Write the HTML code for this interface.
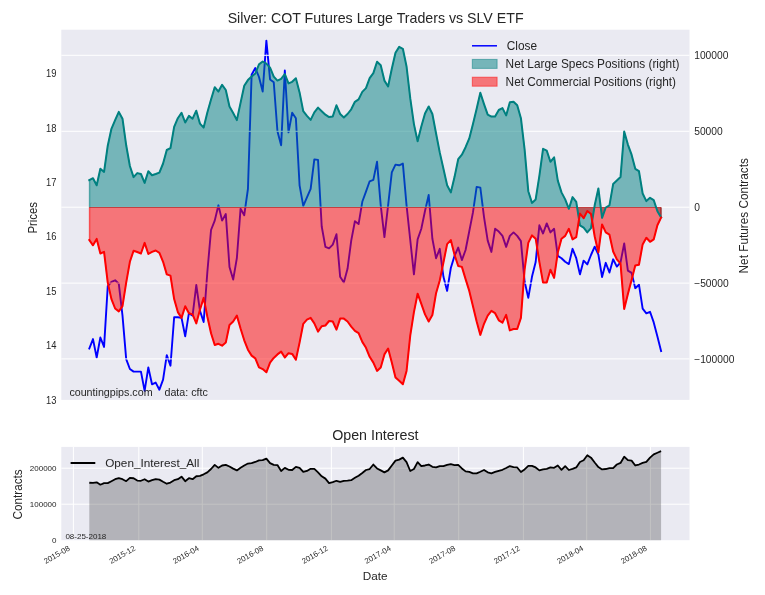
<!DOCTYPE html>
<html><head><meta charset="utf-8"><title>Silver COT</title>
<style>
html,body{margin:0;padding:0;background:#fff;}
svg{display:block;font-family:"Liberation Sans",Arial,sans-serif;fill:#262626;}
</style></head><body>
<svg width="765" height="595" viewBox="0 0 765 595">
<rect width="765" height="595" fill="#fff"/>
<rect x="61.3" y="29.7" width="628.2" height="370.2" fill="#EAEAF2"/>

<polyline points="89.30,348.50 92.99,339.10 96.68,357.50 100.37,337.50 104.06,346.90 107.75,286.20 111.43,281.90 115.12,280.30 118.81,283.80 122.50,315.60 126.19,359.10 129.88,369.00 133.57,371.60 137.26,371.60 140.95,371.60 144.63,390.90 148.32,367.40 152.01,384.30 155.70,382.60 159.39,389.70 163.08,379.60 166.77,355.10 170.46,365.70 174.15,317.20 177.84,317.20 181.52,317.90 185.21,336.30 188.90,313.20 192.59,315.60 196.28,285.00 199.97,310.90 203.66,322.00 207.35,272.00 211.04,230.00 214.73,220.60 218.42,205.30 222.10,220.60 225.79,214.00 229.48,267.00 233.17,279.60 236.86,258.20 240.55,208.80 244.24,215.20 247.93,189.00 251.62,74.70 255.31,68.00 258.99,77.00 262.68,91.60 266.37,40.60 270.06,79.40 273.75,82.20 277.44,131.20 281.13,145.30 284.82,70.50 288.51,132.40 292.19,112.80 295.88,118.20 299.57,185.30 303.26,205.80 306.95,197.30 310.64,188.80 314.33,159.40 318.02,159.90 321.71,226.50 325.40,246.90 329.08,248.40 332.77,244.60 336.46,234.20 340.15,276.80 343.84,282.60 347.53,268.80 351.22,240.60 354.91,221.30 358.60,224.10 362.29,201.80 365.98,191.60 369.66,181.30 373.35,179.90 377.04,161.80 380.73,205.30 384.42,237.10 388.11,205.30 391.80,172.40 395.49,164.60 399.18,165.30 402.87,163.60 406.55,205.30 410.24,240.00 413.93,274.40 417.62,239.40 421.31,228.80 425.00,211.00 428.69,195.00 432.38,238.80 436.07,258.20 439.75,248.80 443.44,276.80 447.13,290.90 450.82,268.00 454.51,255.90 458.20,247.60 461.89,260.10 465.58,250.00 469.27,231.20 472.96,212.40 476.65,186.90 480.33,187.60 484.02,217.10 487.71,240.60 491.40,251.90 495.09,228.80 498.78,231.60 502.47,235.90 506.16,246.90 509.85,235.90 513.53,232.40 517.22,235.90 520.91,241.10 524.60,281.50 528.29,297.90 531.98,276.80 535.67,262.00 539.36,225.30 543.05,233.50 546.74,223.40 550.42,232.40 554.11,228.80 557.80,255.90 561.49,258.20 565.18,261.80 568.87,264.10 572.56,248.80 576.25,258.20 579.94,274.40 583.63,260.60 587.31,264.40 591.00,255.00 594.69,246.70 598.38,254.60 602.07,277.00 605.76,262.80 609.45,272.50 613.14,259.30 616.83,266.60 620.52,262.40 624.20,243.50 627.89,270.60 631.58,272.90 635.27,288.20 638.96,284.70 642.65,308.70 646.34,313.40 650.03,311.80 653.72,322.40 657.41,336.50 661.09,351.10" fill="none" stroke="#0000ff" stroke-width="1.9" stroke-linejoin="round" stroke-linecap="square"/>
<line x1="61.3" x2="689.5" y1="55.3" y2="55.3" stroke="#fff" stroke-width="1"/>
<line x1="61.3" x2="689.5" y1="131.3" y2="131.3" stroke="#fff" stroke-width="1"/>
<line x1="61.3" x2="689.5" y1="207.2" y2="207.2" stroke="#fff" stroke-width="1"/>
<line x1="61.3" x2="689.5" y1="283.1" y2="283.1" stroke="#fff" stroke-width="1"/>
<line x1="61.3" x2="689.5" y1="358.9" y2="358.9" stroke="#fff" stroke-width="1"/>
<path d="M89.30,207.5 L89.30,180.10 L92.99,178.20 L96.68,185.30 L100.37,168.80 L104.06,171.90 L107.75,145.70 L111.43,128.80 L115.12,120.10 L118.81,111.90 L122.50,118.70 L126.19,145.30 L129.88,166.00 L133.57,177.10 L137.26,173.10 L140.95,174.00 L144.63,182.90 L148.32,171.20 L152.01,175.20 L155.70,174.00 L159.39,172.60 L163.08,163.50 L166.77,150.00 L170.46,148.20 L174.15,126.90 L177.84,118.20 L181.52,112.80 L185.21,122.50 L188.90,115.90 L192.59,118.70 L196.28,110.70 L199.97,123.60 L203.66,127.60 L207.35,112.40 L211.04,99.40 L214.73,87.20 L218.42,91.60 L222.10,84.80 L225.79,90.00 L229.48,106.50 L233.17,113.00 L236.86,120.10 L240.55,102.90 L244.24,85.80 L247.93,80.10 L251.62,76.60 L255.31,73.50 L258.99,64.40 L262.68,61.50 L266.37,63.60 L270.06,67.60 L273.75,76.60 L277.44,80.60 L281.13,78.90 L284.82,74.00 L288.51,83.40 L292.19,81.80 L295.88,78.20 L299.57,92.40 L303.26,111.20 L306.95,115.90 L310.64,119.90 L314.33,112.40 L318.02,107.60 L321.71,111.20 L325.40,114.70 L329.08,117.10 L332.77,116.40 L336.46,105.30 L340.15,114.00 L343.84,117.50 L347.53,114.00 L351.22,109.30 L354.91,101.80 L358.60,99.40 L362.29,91.90 L365.98,88.10 L369.66,78.20 L373.35,73.10 L377.04,61.80 L380.73,65.30 L384.42,80.60 L388.11,86.50 L391.80,68.80 L395.49,52.80 L399.18,46.90 L402.87,48.80 L406.55,66.50 L410.24,98.20 L413.93,124.10 L417.62,141.30 L421.31,126.50 L425.00,113.50 L428.69,106.50 L432.38,114.00 L436.07,133.50 L439.75,152.40 L443.44,168.80 L447.13,185.30 L450.82,192.40 L454.51,177.10 L458.20,159.20 L461.89,154.70 L465.58,147.20 L469.27,138.40 L472.96,124.10 L476.65,108.80 L480.33,92.80 L484.02,104.10 L487.71,114.70 L491.40,116.60 L495.09,116.60 L498.78,110.00 L502.47,108.10 L506.16,115.40 L509.85,102.20 L513.53,101.80 L517.22,105.30 L520.91,118.20 L524.60,149.40 L528.29,191.20 L531.98,202.90 L535.67,199.40 L539.36,175.90 L543.05,148.80 L546.74,150.60 L550.42,161.80 L554.11,157.30 L557.80,180.60 L561.49,192.40 L565.18,199.40 L568.87,208.80 L572.56,197.10 L576.25,201.80 L579.94,225.30 L583.63,227.60 L587.31,232.40 L591.00,228.20 L594.69,205.30 L598.38,188.40 L602.07,217.80 L605.76,207.50 L609.45,205.30 L613.14,184.10 L616.83,180.60 L620.52,177.10 L624.20,131.60 L627.89,144.60 L631.58,154.70 L635.27,168.80 L638.96,171.20 L642.65,193.50 L646.34,201.10 L650.03,197.80 L653.72,200.10 L657.41,211.20 L661.09,217.50 L661.09,207.5 Z" fill="#008080" fill-opacity="0.5" stroke="#008080" stroke-opacity="0.5" stroke-width="1" stroke-linejoin="miter"/>
<path d="M89.30,207.5 L89.30,240.10 L92.99,245.30 L96.68,238.90 L100.37,253.50 L104.06,251.90 L107.75,282.60 L111.43,299.10 L115.12,308.50 L118.81,311.40 L122.50,306.20 L126.19,282.60 L129.88,261.80 L133.57,250.70 L137.26,252.00 L140.95,253.50 L144.63,242.90 L148.32,254.00 L152.01,251.90 L155.70,250.50 L159.39,252.80 L163.08,261.80 L166.77,274.40 L170.46,275.60 L174.15,299.10 L177.84,312.10 L181.52,317.90 L185.21,306.20 L188.90,313.20 L192.59,314.40 L196.28,323.40 L199.97,309.70 L203.66,297.90 L207.35,316.80 L211.04,333.20 L214.73,345.00 L218.42,343.80 L222.10,345.70 L225.79,342.60 L229.48,325.00 L233.17,321.50 L236.86,315.60 L240.55,328.50 L244.24,340.30 L247.93,349.70 L251.62,355.60 L255.31,358.40 L258.99,367.40 L262.68,369.10 L266.37,372.30 L270.06,362.60 L273.75,357.90 L277.44,354.40 L281.13,351.60 L284.82,357.50 L288.51,353.20 L292.19,353.90 L295.88,359.80 L299.57,342.60 L303.26,323.80 L306.95,319.60 L310.64,317.90 L314.33,323.40 L318.02,331.60 L321.71,326.20 L325.40,325.50 L329.08,321.00 L332.77,321.50 L336.46,329.70 L340.15,318.60 L343.84,318.60 L347.53,321.50 L351.22,326.60 L354.91,330.90 L358.60,333.20 L362.29,341.90 L365.98,347.80 L369.66,356.80 L373.35,362.60 L377.04,370.90 L380.73,367.40 L384.42,354.40 L388.11,348.50 L391.80,362.60 L395.49,377.50 L399.18,380.80 L402.87,384.30 L406.55,370.90 L410.24,335.60 L413.93,312.10 L417.62,293.70 L421.31,303.80 L425.00,314.40 L428.69,321.50 L432.38,315.00 L436.07,293.20 L439.75,280.50 L443.44,262.50 L447.13,244.10 L450.82,240.10 L454.51,254.70 L458.20,266.00 L461.89,266.90 L465.58,279.10 L469.27,290.90 L472.96,306.20 L476.65,321.50 L480.33,334.90 L484.02,323.80 L487.71,315.60 L491.40,310.90 L495.09,313.20 L498.78,320.30 L502.47,322.60 L506.16,314.90 L509.85,330.40 L513.53,329.00 L517.22,329.00 L520.91,317.90 L524.60,269.70 L528.29,242.90 L531.98,235.40 L535.67,238.70 L539.36,261.80 L543.05,282.60 L546.74,282.60 L550.42,269.70 L554.11,277.90 L557.80,252.40 L561.49,238.70 L565.18,235.90 L568.87,228.80 L572.56,239.40 L576.25,237.10 L579.94,213.50 L583.63,218.20 L587.31,211.00 L591.00,214.00 L594.69,236.50 L598.38,252.40 L602.07,224.40 L605.76,232.40 L609.45,234.70 L613.14,251.50 L616.83,259.30 L620.52,263.50 L624.20,308.90 L627.89,294.10 L631.58,280.00 L635.27,265.40 L638.96,264.70 L642.65,244.40 L646.34,237.80 L650.03,241.80 L653.72,239.40 L657.41,225.30 L661.09,217.50 L661.09,207.5 Z" fill="#ff0000" fill-opacity="0.5" stroke="#ff0000" stroke-opacity="0.5" stroke-width="1" stroke-linejoin="miter"/>
<rect x="89.3" y="180.1" width="1.5" height="27.4" fill="#008080" fill-opacity="0.2"/>
<rect x="89.3" y="207.5" width="1.5" height="32.6" fill="#ff0000" fill-opacity="0.2"/>
<rect x="660.2" y="207.5" width="1.6" height="9.0" fill="#800000" fill-opacity="0.3"/>
<polyline points="89.30,180.10 92.99,178.20 96.68,185.30 100.37,168.80 104.06,171.90 107.75,145.70 111.43,128.80 115.12,120.10 118.81,111.90 122.50,118.70 126.19,145.30 129.88,166.00 133.57,177.10 137.26,173.10 140.95,174.00 144.63,182.90 148.32,171.20 152.01,175.20 155.70,174.00 159.39,172.60 163.08,163.50 166.77,150.00 170.46,148.20 174.15,126.90 177.84,118.20 181.52,112.80 185.21,122.50 188.90,115.90 192.59,118.70 196.28,110.70 199.97,123.60 203.66,127.60 207.35,112.40 211.04,99.40 214.73,87.20 218.42,91.60 222.10,84.80 225.79,90.00 229.48,106.50 233.17,113.00 236.86,120.10 240.55,102.90 244.24,85.80 247.93,80.10 251.62,76.60 255.31,73.50 258.99,64.40 262.68,61.50 266.37,63.60 270.06,67.60 273.75,76.60 277.44,80.60 281.13,78.90 284.82,74.00 288.51,83.40 292.19,81.80 295.88,78.20 299.57,92.40 303.26,111.20 306.95,115.90 310.64,119.90 314.33,112.40 318.02,107.60 321.71,111.20 325.40,114.70 329.08,117.10 332.77,116.40 336.46,105.30 340.15,114.00 343.84,117.50 347.53,114.00 351.22,109.30 354.91,101.80 358.60,99.40 362.29,91.90 365.98,88.10 369.66,78.20 373.35,73.10 377.04,61.80 380.73,65.30 384.42,80.60 388.11,86.50 391.80,68.80 395.49,52.80 399.18,46.90 402.87,48.80 406.55,66.50 410.24,98.20 413.93,124.10 417.62,141.30 421.31,126.50 425.00,113.50 428.69,106.50 432.38,114.00 436.07,133.50 439.75,152.40 443.44,168.80 447.13,185.30 450.82,192.40 454.51,177.10 458.20,159.20 461.89,154.70 465.58,147.20 469.27,138.40 472.96,124.10 476.65,108.80 480.33,92.80 484.02,104.10 487.71,114.70 491.40,116.60 495.09,116.60 498.78,110.00 502.47,108.10 506.16,115.40 509.85,102.20 513.53,101.80 517.22,105.30 520.91,118.20 524.60,149.40 528.29,191.20 531.98,202.90 535.67,199.40 539.36,175.90 543.05,148.80 546.74,150.60 550.42,161.80 554.11,157.30 557.80,180.60 561.49,192.40 565.18,199.40 568.87,208.80 572.56,197.10 576.25,201.80 579.94,225.30 583.63,227.60 587.31,232.40 591.00,228.20 594.69,205.30 598.38,188.40 602.07,217.80 605.76,207.50 609.45,205.30 613.14,184.10 616.83,180.60 620.52,177.10 624.20,131.60 627.89,144.60 631.58,154.70 635.27,168.80 638.96,171.20 642.65,193.50 646.34,201.10 650.03,197.80 653.72,200.10 657.41,211.20 661.09,217.50" fill="none" stroke="#008080" stroke-width="2" stroke-linejoin="round" stroke-linecap="square"/>
<polyline points="89.30,240.10 92.99,245.30 96.68,238.90 100.37,253.50 104.06,251.90 107.75,282.60 111.43,299.10 115.12,308.50 118.81,311.40 122.50,306.20 126.19,282.60 129.88,261.80 133.57,250.70 137.26,252.00 140.95,253.50 144.63,242.90 148.32,254.00 152.01,251.90 155.70,250.50 159.39,252.80 163.08,261.80 166.77,274.40 170.46,275.60 174.15,299.10 177.84,312.10 181.52,317.90 185.21,306.20 188.90,313.20 192.59,314.40 196.28,323.40 199.97,309.70 203.66,297.90 207.35,316.80 211.04,333.20 214.73,345.00 218.42,343.80 222.10,345.70 225.79,342.60 229.48,325.00 233.17,321.50 236.86,315.60 240.55,328.50 244.24,340.30 247.93,349.70 251.62,355.60 255.31,358.40 258.99,367.40 262.68,369.10 266.37,372.30 270.06,362.60 273.75,357.90 277.44,354.40 281.13,351.60 284.82,357.50 288.51,353.20 292.19,353.90 295.88,359.80 299.57,342.60 303.26,323.80 306.95,319.60 310.64,317.90 314.33,323.40 318.02,331.60 321.71,326.20 325.40,325.50 329.08,321.00 332.77,321.50 336.46,329.70 340.15,318.60 343.84,318.60 347.53,321.50 351.22,326.60 354.91,330.90 358.60,333.20 362.29,341.90 365.98,347.80 369.66,356.80 373.35,362.60 377.04,370.90 380.73,367.40 384.42,354.40 388.11,348.50 391.80,362.60 395.49,377.50 399.18,380.80 402.87,384.30 406.55,370.90 410.24,335.60 413.93,312.10 417.62,293.70 421.31,303.80 425.00,314.40 428.69,321.50 432.38,315.00 436.07,293.20 439.75,280.50 443.44,262.50 447.13,244.10 450.82,240.10 454.51,254.70 458.20,266.00 461.89,266.90 465.58,279.10 469.27,290.90 472.96,306.20 476.65,321.50 480.33,334.90 484.02,323.80 487.71,315.60 491.40,310.90 495.09,313.20 498.78,320.30 502.47,322.60 506.16,314.90 509.85,330.40 513.53,329.00 517.22,329.00 520.91,317.90 524.60,269.70 528.29,242.90 531.98,235.40 535.67,238.70 539.36,261.80 543.05,282.60 546.74,282.60 550.42,269.70 554.11,277.90 557.80,252.40 561.49,238.70 565.18,235.90 568.87,228.80 572.56,239.40 576.25,237.10 579.94,213.50 583.63,218.20 587.31,211.00 591.00,214.00 594.69,236.50 598.38,252.40 602.07,224.40 605.76,232.40 609.45,234.70 613.14,251.50 616.83,259.30 620.52,263.50 624.20,308.90 627.89,294.10 631.58,280.00 635.27,265.40 638.96,264.70 642.65,244.40 646.34,237.80 650.03,241.80 653.72,239.40 657.41,225.30 661.09,217.50" fill="none" stroke="#ff0000" stroke-width="2" stroke-linejoin="round" stroke-linecap="square"/>
<text x="375.6" y="22.8" font-size="14.2" text-anchor="middle">Silver: COT Futures Large Traders vs SLV ETF</text>
<text transform="translate(56.4,403.5) scale(0.93,1)" font-size="10.1" text-anchor="end">13</text>
<text transform="translate(56.4,349.1) scale(0.93,1)" font-size="10.1" text-anchor="end">14</text>
<text transform="translate(56.4,294.7) scale(0.93,1)" font-size="10.1" text-anchor="end">15</text>
<text transform="translate(56.4,240.3) scale(0.93,1)" font-size="10.1" text-anchor="end">16</text>
<text transform="translate(56.4,185.9) scale(0.93,1)" font-size="10.1" text-anchor="end">17</text>
<text transform="translate(56.4,131.5) scale(0.93,1)" font-size="10.1" text-anchor="end">18</text>
<text transform="translate(56.4,77.1) scale(0.93,1)" font-size="10.1" text-anchor="end">19</text>
<text x="694.2" y="59.3" font-size="10.25">100000</text>
<text x="694.2" y="135.3" font-size="10.25">50000</text>
<text x="694.2" y="211.2" font-size="10.25">0</text>
<text x="694.2" y="287.1" font-size="10.25">−50000</text>
<text x="694.2" y="362.9" font-size="10.25">−100000</text>
<text transform="translate(37.2,217.8) rotate(-90)" font-size="12.4" textLength="31.6" lengthAdjust="spacingAndGlyphs" text-anchor="middle">Prices</text>
<text transform="translate(748,215.8) rotate(-90)" font-size="12.4" textLength="115.3" lengthAdjust="spacingAndGlyphs" text-anchor="middle">Net Futures Contracts</text>
<text x="69.4" y="395.9" font-size="10.7">countingpips.com&#160;&#160;&#160;&#160;data: cftc</text>
<line x1="472" x2="497" y1="45.8" y2="45.8" stroke="#0000ff" stroke-width="1.5"/>
<rect x="472.3" y="59.4" width="24.8" height="9" fill="#008080" fill-opacity="0.5" stroke="#008080" stroke-opacity="0.5" stroke-width="1"/>
<rect x="472.3" y="77.2" width="24.8" height="9" fill="#ff0000" fill-opacity="0.5" stroke="#ff0000" stroke-opacity="0.5" stroke-width="1"/>
<text x="506.8" y="50.1" font-size="11.85">Close</text>
<text x="505.6" y="67.5" font-size="11.85">Net Large Specs Positions (right)</text>
<text x="505.6" y="85.7" font-size="11.85">Net Commercial Positions (right)</text>
<rect x="61.3" y="446.9" width="628.2" height="93.30000000000007" fill="#EAEAF2"/>
<line x1="73.4" x2="73.4" y1="446.9" y2="540.2" stroke="#fff" stroke-width="1"/>
<line x1="138.8" x2="138.8" y1="446.9" y2="540.2" stroke="#fff" stroke-width="1"/>
<line x1="202.3" x2="202.3" y1="446.9" y2="540.2" stroke="#fff" stroke-width="1"/>
<line x1="266.7" x2="266.7" y1="446.9" y2="540.2" stroke="#fff" stroke-width="1"/>
<line x1="331.4" x2="331.4" y1="446.9" y2="540.2" stroke="#fff" stroke-width="1"/>
<line x1="394.2" x2="394.2" y1="446.9" y2="540.2" stroke="#fff" stroke-width="1"/>
<line x1="458.7" x2="458.7" y1="446.9" y2="540.2" stroke="#fff" stroke-width="1"/>
<line x1="523.4" x2="523.4" y1="446.9" y2="540.2" stroke="#fff" stroke-width="1"/>
<line x1="586.7" x2="586.7" y1="446.9" y2="540.2" stroke="#fff" stroke-width="1"/>
<line x1="650.4" x2="650.4" y1="446.9" y2="540.2" stroke="#fff" stroke-width="1"/>
<line x1="61.3" x2="689.5" y1="468.2" y2="468.2" stroke="#fff" stroke-width="1"/>
<line x1="61.3" x2="689.5" y1="504.2" y2="504.2" stroke="#fff" stroke-width="1"/>
<path d="M89.30,540.2 L89.30,482.75 L92.99,482.94 L96.68,482.35 L100.37,484.71 L104.06,483.14 L107.75,483.14 L111.43,481.18 L115.12,479.22 L118.81,478.24 L122.50,479.22 L126.19,481.18 L129.88,477.84 L133.57,478.24 L137.26,480.59 L140.95,480.78 L144.63,479.22 L148.32,481.57 L152.01,480.20 L155.70,479.22 L159.39,479.61 L163.08,481.76 L166.77,483.73 L170.46,482.55 L174.15,480.20 L177.84,479.22 L181.52,476.67 L185.21,481.18 L188.90,478.24 L192.59,479.22 L196.28,476.27 L199.97,475.88 L203.66,474.31 L207.35,472.35 L211.04,469.02 L214.73,464.90 L218.42,467.84 L222.10,465.49 L225.79,464.90 L229.48,466.47 L233.17,468.63 L236.86,470.39 L240.55,467.84 L244.24,465.49 L247.93,463.53 L251.62,463.14 L255.31,461.96 L258.99,460.39 L262.68,460.20 L266.37,458.63 L270.06,463.14 L273.75,464.90 L277.44,465.10 L281.13,470.98 L284.82,467.84 L288.51,469.80 L292.19,470.00 L295.88,466.86 L299.57,467.84 L303.26,471.96 L306.95,470.98 L310.64,468.82 L314.33,468.82 L318.02,472.35 L321.71,476.27 L325.40,478.63 L329.08,483.14 L332.77,482.16 L336.46,480.78 L340.15,481.76 L343.84,480.78 L347.53,480.59 L351.22,480.20 L354.91,477.84 L358.60,475.69 L362.29,472.94 L365.98,470.00 L369.66,469.02 L373.35,464.51 L377.04,468.43 L380.73,470.39 L384.42,472.35 L388.11,470.39 L391.80,465.49 L395.49,460.59 L399.18,459.61 L402.87,457.65 L406.55,462.16 L410.24,470.98 L413.93,469.02 L417.62,462.16 L421.31,466.08 L425.00,465.49 L428.69,464.51 L432.38,466.86 L436.07,467.45 L439.75,466.08 L443.44,466.08 L447.13,464.90 L450.82,464.12 L454.51,465.10 L458.20,464.90 L461.89,468.43 L465.58,471.37 L469.27,471.96 L472.96,473.33 L476.65,473.33 L480.33,471.76 L484.02,470.00 L487.71,472.35 L491.40,473.33 L495.09,471.96 L498.78,470.78 L502.47,469.80 L506.16,468.04 L509.85,466.08 L513.53,467.06 L517.22,467.45 L520.91,471.96 L524.60,469.41 L528.29,465.88 L531.98,465.88 L535.67,467.45 L539.36,470.39 L543.05,469.41 L546.74,468.82 L550.42,467.45 L554.11,467.84 L557.80,465.49 L561.49,469.80 L565.18,466.08 L568.87,470.00 L572.56,468.82 L576.25,467.45 L579.94,461.96 L583.63,460.20 L587.31,455.29 L591.00,457.65 L594.69,462.55 L598.38,467.06 L602.07,469.41 L605.76,469.02 L609.45,468.04 L613.14,468.04 L616.83,464.51 L620.52,462.94 L624.20,456.67 L627.89,460.20 L631.58,460.59 L635.27,465.49 L638.96,464.51 L642.65,462.94 L646.34,461.96 L650.03,457.65 L653.72,454.31 L657.41,452.75 L661.09,451.18 L661.09,540.2 Z" fill="#000" fill-opacity="0.235"/>
<polyline points="89.30,482.75 92.99,482.94 96.68,482.35 100.37,484.71 104.06,483.14 107.75,483.14 111.43,481.18 115.12,479.22 118.81,478.24 122.50,479.22 126.19,481.18 129.88,477.84 133.57,478.24 137.26,480.59 140.95,480.78 144.63,479.22 148.32,481.57 152.01,480.20 155.70,479.22 159.39,479.61 163.08,481.76 166.77,483.73 170.46,482.55 174.15,480.20 177.84,479.22 181.52,476.67 185.21,481.18 188.90,478.24 192.59,479.22 196.28,476.27 199.97,475.88 203.66,474.31 207.35,472.35 211.04,469.02 214.73,464.90 218.42,467.84 222.10,465.49 225.79,464.90 229.48,466.47 233.17,468.63 236.86,470.39 240.55,467.84 244.24,465.49 247.93,463.53 251.62,463.14 255.31,461.96 258.99,460.39 262.68,460.20 266.37,458.63 270.06,463.14 273.75,464.90 277.44,465.10 281.13,470.98 284.82,467.84 288.51,469.80 292.19,470.00 295.88,466.86 299.57,467.84 303.26,471.96 306.95,470.98 310.64,468.82 314.33,468.82 318.02,472.35 321.71,476.27 325.40,478.63 329.08,483.14 332.77,482.16 336.46,480.78 340.15,481.76 343.84,480.78 347.53,480.59 351.22,480.20 354.91,477.84 358.60,475.69 362.29,472.94 365.98,470.00 369.66,469.02 373.35,464.51 377.04,468.43 380.73,470.39 384.42,472.35 388.11,470.39 391.80,465.49 395.49,460.59 399.18,459.61 402.87,457.65 406.55,462.16 410.24,470.98 413.93,469.02 417.62,462.16 421.31,466.08 425.00,465.49 428.69,464.51 432.38,466.86 436.07,467.45 439.75,466.08 443.44,466.08 447.13,464.90 450.82,464.12 454.51,465.10 458.20,464.90 461.89,468.43 465.58,471.37 469.27,471.96 472.96,473.33 476.65,473.33 480.33,471.76 484.02,470.00 487.71,472.35 491.40,473.33 495.09,471.96 498.78,470.78 502.47,469.80 506.16,468.04 509.85,466.08 513.53,467.06 517.22,467.45 520.91,471.96 524.60,469.41 528.29,465.88 531.98,465.88 535.67,467.45 539.36,470.39 543.05,469.41 546.74,468.82 550.42,467.45 554.11,467.84 557.80,465.49 561.49,469.80 565.18,466.08 568.87,470.00 572.56,468.82 576.25,467.45 579.94,461.96 583.63,460.20 587.31,455.29 591.00,457.65 594.69,462.55 598.38,467.06 602.07,469.41 605.76,469.02 609.45,468.04 613.14,468.04 616.83,464.51 620.52,462.94 624.20,456.67 627.89,460.20 631.58,460.59 635.27,465.49 638.96,464.51 642.65,462.94 646.34,461.96 650.03,457.65 653.72,454.31 657.41,452.75 661.09,451.18" fill="none" stroke="#000" stroke-width="1.8" stroke-linejoin="round"/>
<text x="375.3" y="440.3" font-size="14.25" text-anchor="middle">Open Interest</text>
<text x="56.5" y="542.6" font-size="8" text-anchor="end">0</text>
<text x="56.5" y="506.8" font-size="8" text-anchor="end">100000</text>
<text x="56.5" y="470.8" font-size="8" text-anchor="end">200000</text>
<text transform="translate(21.8,494.4) rotate(-90)" font-size="12.4" textLength="50.2" lengthAdjust="spacingAndGlyphs" text-anchor="middle">Contracts</text>
<text x="375.2" y="579.7" font-size="11.75" text-anchor="middle">Date</text>
<text x="65.4" y="538.8" font-size="8">08-25-2018</text>
<line x1="70.6" x2="95.3" y1="463" y2="463" stroke="#000" stroke-width="2"/>
<text x="105.2" y="467.2" font-size="11.75">Open_Interest_All</text>
<text transform="translate(70.6,549.8) rotate(-30)" font-size="7.8" text-anchor="end">2015-08</text>
<text transform="translate(136.0,549.8) rotate(-30)" font-size="7.8" text-anchor="end">2015-12</text>
<text transform="translate(199.5,549.8) rotate(-30)" font-size="7.8" text-anchor="end">2016-04</text>
<text transform="translate(263.9,549.8) rotate(-30)" font-size="7.8" text-anchor="end">2016-08</text>
<text transform="translate(328.6,549.8) rotate(-30)" font-size="7.8" text-anchor="end">2016-12</text>
<text transform="translate(391.4,549.8) rotate(-30)" font-size="7.8" text-anchor="end">2017-04</text>
<text transform="translate(455.9,549.8) rotate(-30)" font-size="7.8" text-anchor="end">2017-08</text>
<text transform="translate(520.6,549.8) rotate(-30)" font-size="7.8" text-anchor="end">2017-12</text>
<text transform="translate(583.9,549.8) rotate(-30)" font-size="7.8" text-anchor="end">2018-04</text>
<text transform="translate(647.6,549.8) rotate(-30)" font-size="7.8" text-anchor="end">2018-08</text>
</svg></body></html>
